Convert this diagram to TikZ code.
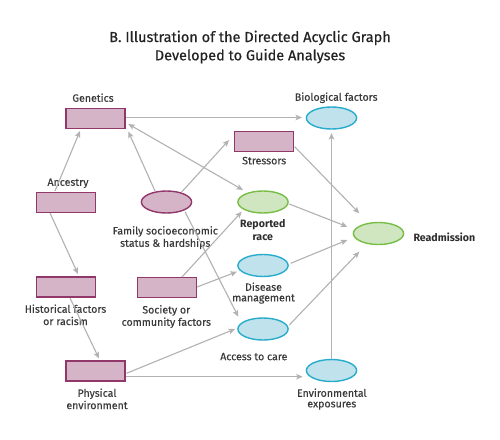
\documentclass[tikz,border=0pt]{standalone}
\usepackage{fontspec}
\setmainfont{Fira Sans}
\newfontfamily\lblfont{Fira Sans}[FakeBold=0.3]
\newfontfamily\ttlfont{Fira Sans}[FakeBold=0.5]
\usetikzlibrary{arrows.meta,shapes.geometric}
\definecolor{rfill}{RGB}{213,180,200}
\definecolor{rdraw}{RGB}{145,55,105}
\definecolor{bfill}{RGB}{192,226,236}
\definecolor{bdraw}{RGB}{40,172,204}
\definecolor{gfill}{RGB}{208,230,192}
\definecolor{gdraw}{RGB}{120,190,70}
\definecolor{edgec}{RGB}{178,178,178}
\definecolor{txt}{RGB}{58,58,58}
\definecolor{ttl}{RGB}{35,35,35}
\definecolor{btxt}{RGB}{45,45,45}
\begin{document}
\begin{tikzpicture}[x=1pt,y=-1pt,
 box/.style={draw=rdraw,fill=rfill,line width=1.4pt,minimum width=59.3pt,minimum height=20pt,inner sep=0pt},
 ell/.style={ellipse,line width=1.4pt,minimum width=50.2pt,minimum height=22pt,inner sep=0pt},
 bell/.style={ell,draw=bdraw,fill=bfill},
 gell/.style={ell,draw=gdraw,fill=gfill},
 pell/.style={ell,draw=rdraw,fill=rfill},
 lbl/.style={anchor=north,inner sep=0pt,align=center,text=txt,font=\lblfont\fontsize{10.6}{12.3}\selectfont},
 lbltight/.style={lbl,font=\lblfont\fontsize{10.6}{10.6}\selectfont},
 bl/.style={lbl,text=btxt,font=\fontsize{10.6}{12.6}\selectfont\bfseries},
 arr/.style={draw=edgec,line width=1.1pt,-{Stealth[length=6.5pt,width=5.5pt,inset=1.5pt]}},
 arrb/.style={draw=edgec,line width=1.1pt,{Stealth[length=6.5pt,width=5.5pt,inset=1.5pt]}-{Stealth[length=6.5pt,width=5.5pt,inset=1.5pt]}},
]
\useasboundingbox[fill=white] (0,0) rectangle (500,439);

% title
\node[anchor=north,inner sep=0pt,align=center,text=ttl,font=\ttlfont\fontsize{14.5}{18.3}\selectfont] (title) at (250,30.5)
  {B. Illustration of the Directed Acyclic Graph\\Developed to Guide Analyses};

% nodes
\node[box] (gen) at (95.5,118.5) {};
\node[box] (anc) at (66,202.5) {};
\node[box] (hist) at (66,287) {};
\node[box] (soc) at (167,287.5) {};
\node[box] (phys) at (95.5,371) {};
\node[box] (str) at (264,141.5) {};
\node[pell] (fam) at (166.5,202) {};
\node[bell] (bio) at (331.5,118) {};
\node[gell] (race) at (263,202) {};
\node[bell] (dis) at (263,265.5) {};
\node[bell] (acc) at (263,329) {};
\node[bell] (env) at (331.5,370.5) {};
\node[gell] (read) at (378.5,233.5) {};

% labels
\node[lbl] (lgen) at (93,93.3) {Genetics};
\node[lbl] (lanc) at (68,178.3) {Ancestry};
\node[lbl] (lfam) at (165.3,226) {Family socioeconomic\\status \& hardships};
\node[lbl] (lstr) at (264.2,156.7) {Stressors};
\node[lbl] (lbio) at (336.2,92.3) {Biological factors};
\node[bl] (lrace) at (262.8,219.3) {Reported\\race};
\node[bl,anchor=north west] (lread) at (413.3,232.3) {Readmission};
\node[lbl] (lhist) at (65.5,304.3) {Historical factors\\or racism};
\node[lbl] (lsoc) at (166.3,305) {Society or\\community factors};
\node[lbl] (lphys) at (97,388.3) {Physical\\environment};
\node[lbltight] (ldis) at (263.5,282.3) {Disease\\management};
\node[lbl] (lacc) at (253.8,352.7) {Access to care};
\node[lbltight] (lenv) at (331.8,388.3) {Environmental\\exposures};

% connectors
\draw[arr] ([shift={(30.5,-1)}]gen.center) -- ([shift={(-29.5,-0.5)}]bio.center);
\draw[arr] ([shift={(-11,-11.5)}]anc.center) -- ([shift={(-15.5,12.5)}]gen.center);
\draw[arr] ([shift={(-11.5,-11)}]fam.center) -- ([shift={(32.8,13)}]gen.center);
\draw[arrb] ([shift={(32.8,5.5)}]gen.center) -- ([shift={(-20,-12)}]race.center);
\draw[arr] ([shift={(15.2,-10)}]fam.center) -- ([shift={(-35,-1.5)}]str.center);
\draw[arr] ([shift={(18.5,9.7)}]fam.center) -- ([shift={(-24.7,-12.3)}]acc.center);
\draw[arr] ([shift={(15,-10.5)}]soc.center) -- ([shift={(-21.3,9.7)}]race.center);
\draw[arr] ([shift={(30,-0.5)}]soc.center) -- ([shift={(-26,6.2)}]dis.center);
\draw[arr] ([shift={(-16,10.5)}]anc.center) -- ([shift={(12,-13)}]hist.center);
\draw[arr] ([shift={(4,11)}]hist.center) -- ([shift={(3.5,-12.5)}]phys.center);
\draw[arr] ([shift={(31,2.3)}]phys.center) -- ([shift={(-28,0)}]acc.center);
\draw[arr] ([shift={(30.5,5.7)}]phys.center) -- ([shift={(-28.8,6.2)}]env.center);
\draw[arr] ([shift={(0,-12)}]env.center) -- ([shift={(0,15)}]bio.center);
\draw[arr] ([shift={(30.7,5.2)}]str.center) -- ([shift={(-19.2,-20.2)}]read.center);
\draw[arr] ([shift={(26.3,2)}]race.center) -- ([shift={(-31.2,-6.8)}]read.center);
\draw[arr] ([shift={(27.7,-2.2)}]dis.center) -- ([shift={(-31.2,6.5)}]read.center);
\draw[arr] ([shift={(26.3,-4)}]acc.center) -- ([shift={(-19.2,18.2)}]read.center);
\end{tikzpicture}
\end{document}
